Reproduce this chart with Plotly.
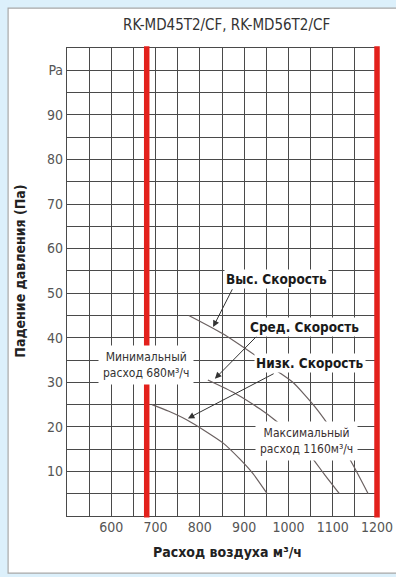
import plotly.graph_objects as go

# ---- data ----
title_text = "RK-MD45T2/CF, RK-MD56T2/CF"
x_title = "Расход воздуха м³/ч"
y_title = "Падение давления (Па)"

x_range = [500, 1200]
y_range = [0, 105]
x_grid = list(range(500, 1201, 50))
x_labels = ["", "", "600", "", "700", "", "800", "", "900", "", "1000", "", "1100", "", "1200"]
y_grid = list(range(0, 106, 5))
y_labels = ["", "", "10", "", "20", "", "30", "", "40", "", "50", "", "60", "", "70", "", "80", "", "90", "", "Pa", ""]

high_x = [775, 850, 930, 975, 1010, 1060, 1100, 1140, 1180]
high_y = [45, 41, 35.7, 32.5, 30, 24.5, 19, 12.5, 5]
mid_x = [818, 880, 936, 970, 1010, 1050, 1080, 1115]
mid_y = [30.5, 27.5, 24, 21.5, 18, 13.5, 9.5, 5]
low_x = [692, 730, 770, 810, 852, 890, 920, 952]
low_y = [25, 23.5, 21.6, 19.2, 16.4, 12.8, 9.5, 5]

min_flow = 680
max_line = 1200

speed_labels = ["Выс. Скорость", "Сред. Скорость", "Низк. Скорость"]
min_label = "Минимальный<br>расход 680м³/ч"
max_label = "Максимальный<br>расход 1160м³/ч"

FONT = "Liberation Sans Narrow, DejaVu Sans Condensed, Roboto Condensed, Arial Narrow, Liberation Sans, sans-serif"

fig = go.Figure()
curve_color = "#6a6060"
for xs, ys in [(high_x, high_y), (mid_x, mid_y), (low_x, low_y)]:
    fig.add_trace(go.Scatter(x=xs, y=ys, mode="lines", line=dict(color=curve_color, width=1.2, shape="spline", smoothing=0.6),
                             hoverinfo="skip", showlegend=False))

def px(v):
    return (v - x_range[0]) / (x_range[1] - x_range[0])

shapes = [
    dict(type="rect", xref="paper", yref="paper", x0=-0.19, x1=1.3, y0=-0.122, y1=1.085,
         fillcolor="white", line=dict(color="#a8a8a8", width=1.2), layer="below"),
]
for v in [min_flow, max_line]:
    shapes.append(dict(type="line", xref="paper", yref="paper", x0=px(v), x1=px(v), y0=-0.003, y1=1.004,
                       line=dict(color="#e3211c", width=5.5), layer="above"))

ann = []
ann.append(dict(text=title_text, xref="paper", yref="paper", x=0.516, y=1.049, xanchor="center", yanchor="middle",
                showarrow=False, font=dict(family=FONT, size=15, color="#333")))
ann.append(dict(text=x_title, xref="paper", yref="paper", x=0.519, y=-0.077, xanchor="center", yanchor="middle",
                showarrow=False, font=dict(family=FONT, size=14, color="#222", weight="bold")))
ann.append(dict(text=y_title, xref="paper", yref="paper", x=-0.152, y=0.524, xanchor="center", yanchor="middle",
                showarrow=False, textangle=-90, font=dict(family=FONT, size=14, color="#222", weight="bold")))

leaders = [((830, 42.4), (875, 51.2)), ((834, 30.8), (931, 40.6)), ((773, 21.9), (970, 32.1))]
for (tx, ty), (sx, sy) in leaders:
    ann.append(dict(x=tx, y=ty, ax=sx, ay=sy, xref="x", yref="y", axref="x", ayref="y", text="",
                    showarrow=True, arrowhead=2, arrowsize=1.3, arrowwidth=1, arrowcolor="#333"))

label_pos = [(974, 53.2), (1037, 42.4), (1049, 34.3)]
for t, (lx, ly) in zip(speed_labels, label_pos):
    ann.append(dict(text=t, x=lx, y=ly, xref="x", yref="y", xanchor="center", yanchor="middle", showarrow=False,
                    bgcolor="white", borderpad=1, font=dict(family=FONT, size=13.5, color="#1a1a1a", weight="bold")))

ann.append(dict(text=min_label, x=678, y=33.9, xref="x", yref="y", xanchor="center", yanchor="middle", showarrow=False,
                bgcolor="white", borderpad=4, font=dict(family=FONT, size=12, color="#333")))
ann.append(dict(text=max_label, x=1040, y=16.8, xref="x", yref="y", xanchor="center", yanchor="middle", showarrow=False,
                bgcolor="white", borderpad=4, font=dict(family=FONT, size=12, color="#3a3030")))

fig.update_layout(
    template="none",
    width=396, height=577,
    margin=dict(l=67, r=19, t=48, b=61, pad=0, autoexpand=False),
    paper_bgcolor="#dcf0fb",
    plot_bgcolor="white",
    shapes=shapes,
    annotations=ann,
    showlegend=False,
)
common = dict(showgrid=True, gridcolor="#4a4a4a", gridwidth=1.2, showline=True, linecolor="#4a4a4a", linewidth=1.2,
              mirror=True, ticks="", zeroline=False, automargin=False,
              tickfont=dict(family=FONT, size=14, color="#555"))
fig.update_xaxes(range=x_range, tickvals=x_grid, ticktext=x_labels, ticklabelstandoff=-2, **common)
fig.update_yaxes(range=y_range, tickvals=y_grid, ticktext=y_labels, **common)

fig.write_html("out.html", config={"displayModeBar": False},
               post_script="document.body.style.margin='0';document.body.style.overflow='hidden';")
